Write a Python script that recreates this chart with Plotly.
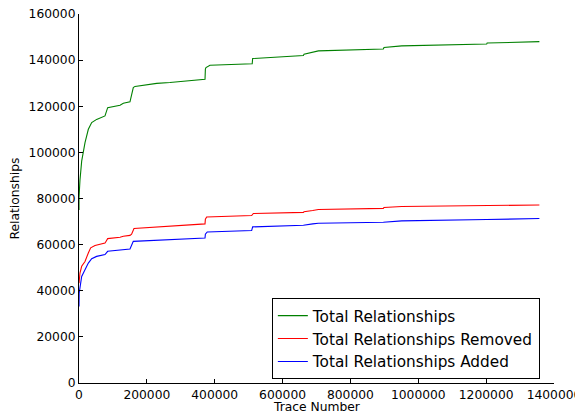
import plotly.graph_objects as go

# Total Relationships (green)
total_x = [0, 0, 2900, 7900, 17700, 27500, 37400, 52000, 76600, 80000, 84500, 121000, 130600, 150300,
           155000, 160000, 165000, 229000, 268000, 297700, 337000, 371400, 372500, 374300, 386000,
           494000, 510500, 511800, 661400, 663300, 688800, 705500, 897000, 899000, 951200,
           1201600, 1203000, 1270500, 1356900]
total_y = [75000, 80300, 88000, 96200, 104200, 110000, 112900, 114300, 115800, 117000, 119400, 120400, 121300, 121900,
           125000, 128100, 128600, 129900, 130300, 130700, 131300, 131700, 136100, 136800, 137800,
           138260, 138400, 140700, 142000, 142600, 143300, 144000, 144800, 145500, 146200,
           147000, 147400, 147700, 148000]

# Total Relationships Removed (red)
removed_x = [0, 2900, 7900, 17700, 27500, 34400, 47200, 76600, 80000, 84500, 121000, 130600, 150300,
             155000, 162100, 356700, 371400, 372500, 376300, 508900, 513900, 661400, 663300, 688800,
             705500, 897000, 899000, 951200, 1201600, 1356900]
removed_y = [43300, 47700, 50600, 52700, 56400, 58600, 59600, 60700, 61500, 62600, 63200, 63600, 64000,
             64500, 67000, 69000, 69000, 71000, 72000, 72600, 73500, 74000, 74300, 74800,
             75200, 75700, 76100, 76500, 77000, 77200]

# Total Relationships Added (blue)
added_x = [0, 500, 7900, 17700, 27500, 37400, 52000, 76600, 80000, 84500, 150300, 155000, 160000,
           371400, 372500, 378000, 508900, 511800, 661400, 688800, 705500, 897000, 951200,
           1201600, 1356900]
added_y = [33200, 39000, 46200, 49100, 52000, 53900, 54900, 55700, 56200, 57100, 58100, 59500, 61400,
           62900, 64500, 65500, 66100, 67700, 68400, 69000, 69300, 69700, 70300,
           70900, 71300]

series_names = ["Total Relationships", "Total Relationships Removed", "Total Relationships Added"]
series_colors = ["#008000", "#ff0000", "#0000ff"]

x_ticks = [0, 200000, 400000, 600000, 800000, 1000000, 1200000, 1400000]
y_ticks = [0, 20000, 40000, 60000, 80000, 100000, 120000, 140000, 160000]

fig = go.Figure()
for xs, ys, name, col in zip([total_x, removed_x, added_x],
                             [total_y, removed_y, added_y],
                             series_names, series_colors):
    fig.add_trace(go.Scatter(x=xs, y=ys, mode="lines", name=name,
                             line=dict(color=col, width=1.1)))

font_family = "DejaVu Sans"
fig.update_layout(
    width=575, height=406,
    margin=dict(l=71, r=29, t=6, b=31),
    paper_bgcolor="white", plot_bgcolor="white",
    font=dict(family=font_family, size=12, color="black"),
    showlegend=True,
    legend=dict(
        x=0.406, y=0.12, xanchor="left", yanchor="middle",
        bordercolor="black", borderwidth=1, bgcolor="white",
        font=dict(size=15.3, family=font_family),
        itemwidth=30, tracegroupgap=0,
    ),
    xaxis=dict(
        range=[0, 1400000], tickvals=x_ticks, ticktext=[str(v) for v in x_ticks],
        showgrid=False, zeroline=False, showline=True, linecolor="black", linewidth=1,
        ticks="inside", ticklen=4, tickcolor="black", automargin=False,
        ticklabeloverflow="allow", tickfont=dict(size=12.3),
    ),
    yaxis=dict(
        range=[0, 160000], tickvals=y_ticks, ticktext=[str(v) for v in y_ticks],
        showgrid=False, zeroline=False, showline=True, linecolor="black", linewidth=1,
        ticks="inside", ticklen=4, tickcolor="black", automargin=False,
        ticklabeloverflow="allow", tickfont=dict(size=12.3),
    ),
    annotations=[
        dict(text="Trace Number", xref="paper", yref="paper", x=0.5, y=0,
             xanchor="center", yanchor="middle", yshift=-24, showarrow=False,
             font=dict(size=12.3, family=font_family)),
        dict(text="Relationships", xref="paper", yref="paper", x=0, y=0.5,
             xanchor="center", yanchor="middle", xshift=-65, textangle=-90,
             showarrow=False, font=dict(size=12.3, family=font_family)),
    ],
)

fig.write_html("out.html")
